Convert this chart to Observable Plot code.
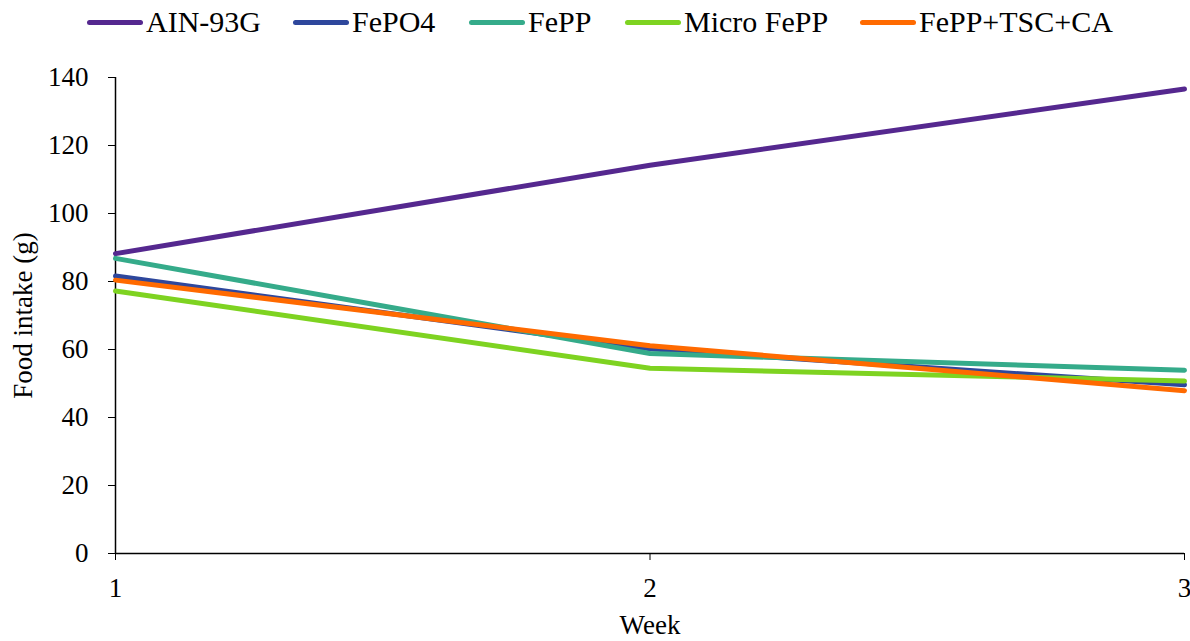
<!DOCTYPE html>
<html>
<head>
<meta charset="utf-8">
<script src="https://cdn.jsdelivr.net/npm/d3@7"></script>
<script src="https://cdn.jsdelivr.net/npm/@observablehq/plot@0.6"></script>
<style>
  html, body { margin: 0; padding: 0; background: #fff; }
  body { width: 1190px; height: 641px; overflow: hidden; font-family: "Liberation Serif", "Times New Roman", Times, Tinos, "DejaVu Serif", serif; }
  #legend { position: relative; height: 44px; }
  .item { position: absolute; top: 7px; display: flex; align-items: center; font-size: 30px; color: #000; line-height: 30px; white-space: nowrap; }
  .swatch { width: 56px; height: 5px; border-radius: 3px; margin-right: 3px; }
</style>
</head>
<body>
<div id="legend"></div>
<div id="chart"></div>
<script>
const weeks = [1, 2, 3];
const seriesNames = ["AIN-93G", "FePO4", "FePP", "Micro FePP", "FePP+TSC+CA"];
const ain93g = [88.2, 114.2, 136.6];
const fepo4 = [81.6, 60.2, 49.6];
const fepp = [86.8, 58.8, 53.9];
const microFepp = [77.2, 54.5, 50.7];
const feppTscCa = [80.4, 61.1, 47.9];
const colors = ["#55288f", "#2e479c", "#35ab8a", "#7ed321", "#ff6a00"];
const yTicks = [0, 20, 40, 60, 80, 100, 120, 140];
const xTicks = [1, 2, 3];

const allValues = [ain93g, fepo4, fepp, microFepp, feppTscCa];
const data = [];
seriesNames.forEach((name, i) => {
  weeks.forEach((w, j) => data.push({series: name, week: w, value: allValues[i][j]}));
});

const FONT = '"Liberation Serif", "Times New Roman", Times, Tinos, "DejaVu Serif", serif';

// legend
const legendX = [87, 293, 469, 625, 860];
const legend = document.getElementById("legend");
seriesNames.forEach((name, i) => {
  const d = document.createElement("div");
  d.className = "item";
  d.style.left = legendX[i] + "px";
  const s = document.createElement("span");
  s.className = "swatch";
  s.style.background = colors[i];
  const t = document.createElement("span");
  t.textContent = name;
  d.appendChild(s); d.appendChild(t);
  legend.appendChild(d);
});

const chart = Plot.plot({
  width: 1190,
  height: 597,
  marginLeft: 115,
  marginRight: 6,
  marginTop: 33,
  marginBottom: 88,
  style: {fontFamily: FONT, fontSize: "27px", color: "#000", background: "#fff"},
  x: {domain: [1, 3], ticks: xTicks, tickFormat: d3.format("d")},
  y: {domain: [0, 140], ticks: yTicks},
  color: {domain: seriesNames, range: colors},
  marks: [
    Plot.ruleX([1], {stroke: "#000", strokeWidth: 1.5}),
    Plot.ruleY([0], {stroke: "#000", strokeWidth: 1.5}),
    Plot.axisY({ticks: yTicks, tickSize: 7, tickPadding: 20, tickFormat: d3.format("d"), label: null, fontSize: 27}),
    Plot.axisX({ticks: xTicks, tickSize: 7, tickPadding: 17, label: null, fontSize: 27, tickFormat: d3.format("d")}),
    Plot.text(["Food intake (g)"], {frameAnchor: "left", dx: -92, rotate: -90, fontSize: 27, textAnchor: "middle", lineAnchor: "middle"}),
    Plot.text(["Week"], {frameAnchor: "bottom", dy: 72, fontSize: 27, lineAnchor: "middle"}),
    Plot.line(data, {x: "week", y: "value", z: "series", stroke: "series", strokeWidth: 5, strokeLinecap: "round", strokeLinejoin: "round"})
  ]
});
document.getElementById("chart").appendChild(chart);
</script>
</body>
</html>
